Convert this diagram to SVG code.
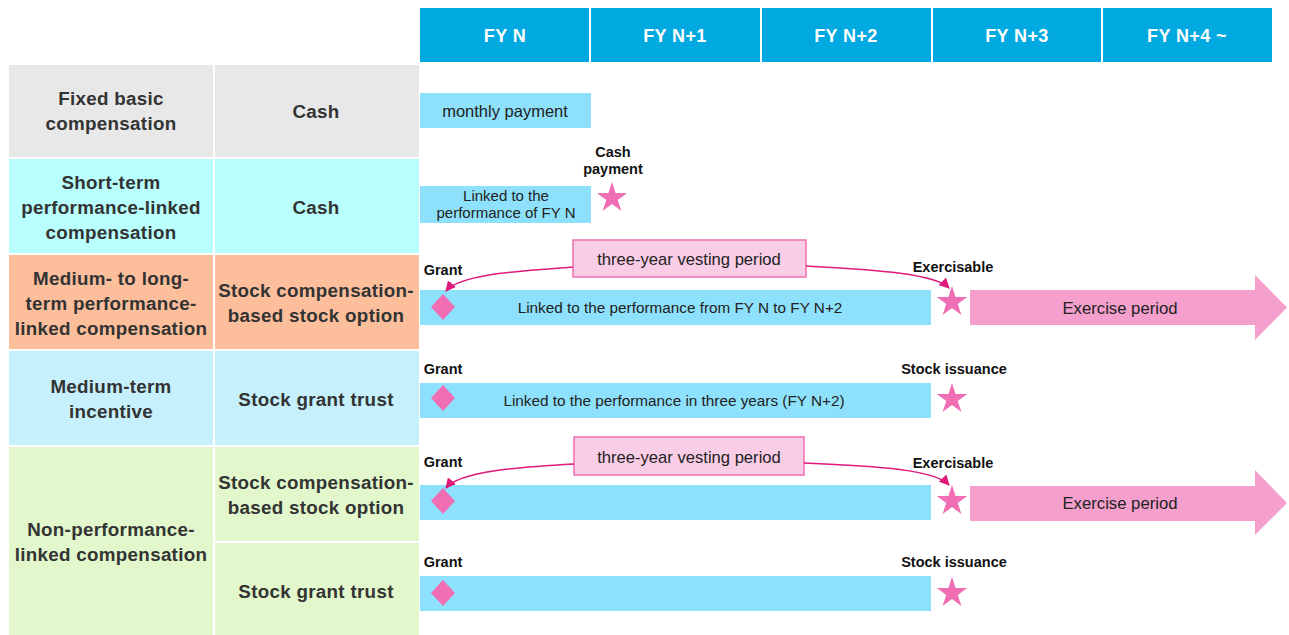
<svg xmlns="http://www.w3.org/2000/svg" width="1289" height="635" viewBox="0 0 1289 635">
<defs>
<style>
.hdr{fill:#00A9DF}
.hdrt{font-family:"Liberation Sans",Arial,sans-serif;font-weight:bold;font-size:18px;fill:#fff;text-anchor:middle;letter-spacing:0.4px}
.tt{font-family:"Liberation Sans",Arial,sans-serif;font-weight:bold;font-size:18.8px;fill:#333;text-anchor:middle;letter-spacing:0.3px}
.bar{fill:#8EE1FC}
.bt{font-family:"Liberation Sans",Arial,sans-serif;font-size:15.3px;fill:#222;text-anchor:middle}
.lb{font-family:"Liberation Sans",Arial,sans-serif;font-weight:bold;font-size:14.5px;fill:#111;text-anchor:middle}
.mk{fill:#F06EB4}
.vest{fill:#F9CDE6;stroke:#EE6FAE;stroke-width:1.5}
.vt{font-family:"Liberation Sans",Arial,sans-serif;font-size:16.6px;fill:#222;text-anchor:middle}
.conn{fill:none;stroke:#E0197D;stroke-width:1.5}
.exa{fill:#F49FCC}
</style>
<path id="star" d="M0,-16 L3.59,-4.94 L15.22,-4.94 L5.8,1.88 L9.4,12.94 L0,6.1 L-9.4,12.94 L-5.8,1.88 L-15.22,-4.94 L-3.59,-4.94 Z"/>
<path id="dia" d="M0,-13 L12,0 L0,13 L-12,0 Z"/>
<marker id="ah" viewBox="0 0 10 10" refX="9" refY="5" markerWidth="7" markerHeight="7" orient="auto-start-reverse">
<path d="M0,0 L10,5 L0,10 Z" fill="#E0197D"/>
</marker>
</defs>
<rect width="1289" height="635" fill="#fff"/>

<g id="header">
<rect class="hdr" x="420" y="8" width="169" height="54"/>
<rect class="hdr" x="591" y="8" width="169" height="54"/>
<rect class="hdr" x="762" y="8" width="169" height="54"/>
<rect class="hdr" x="933" y="8" width="168" height="54"/>
<rect class="hdr" x="1103" y="8" width="169" height="54"/>
<text class="hdrt" x="505" y="42">FY N</text>
<text class="hdrt" x="675" y="42">FY N+1</text>
<text class="hdrt" x="846" y="42">FY N+2</text>
<text class="hdrt" x="1017" y="42">FY N+3</text>
<text class="hdrt" x="1187" y="42">FY N+4 ~</text>
</g>

<g id="row-fixed">
<rect x="9" y="65" width="204" height="92" fill="#E8E8E8"/>
<rect x="215" y="65" width="204" height="92" fill="#E8E8E8"/>
<text class="tt" x="111" y="105">Fixed basic</text>
<text class="tt" x="111" y="130">compensation</text>
<text class="tt" x="316" y="118">Cash</text>
<rect class="bar" x="420" y="93" width="171" height="35"/>
<text class="bt" x="505" y="117" style="font-size:16.5px">monthly payment</text>
</g>

<g id="row-short">
<rect x="9" y="159" width="204" height="94" fill="#B8FFFD"/>
<rect x="215" y="159" width="204" height="94" fill="#B8FFFD"/>
<text class="tt" x="111" y="189">Short-term</text>
<text class="tt" x="111" y="214">performance-linked</text>
<text class="tt" x="111" y="239">compensation</text>
<text class="tt" x="316" y="214">Cash</text>
<rect class="bar" x="420" y="186" width="171" height="37"/>
<text class="bt" x="506" y="201" style="font-size:15px">Linked to the</text>
<text class="bt" x="506" y="218" style="font-size:15px">performance of FY N</text>
<text class="lb" x="613" y="157">Cash</text>
<text class="lb" x="613" y="174">payment</text>
<use href="#star" class="mk" transform="translate(612,198)"/>
</g>

<g id="row-midlong">
<rect x="9" y="255" width="204" height="94" fill="#FDBF9B"/>
<rect x="215" y="255" width="204" height="94" fill="#FDBF9B"/>
<text class="tt" x="111" y="285">Medium- to long-</text>
<text class="tt" x="111" y="310">term performance-</text>
<text class="tt" x="111" y="335">linked compensation</text>
<text class="tt" x="316" y="297">Stock compensation-</text>
<text class="tt" x="316" y="322">based stock option</text>
<rect class="bar" x="420" y="290" width="511" height="35"/>
<text class="bt" x="680" y="313">Linked to the performance from FY N to FY N+2</text>
<text class="lb" x="443" y="275">Grant</text>
<text class="lb" x="953" y="272">Exercisable</text>
<use href="#dia" class="mk" transform="translate(443,307)"/>
<use href="#star" class="mk" transform="translate(952,302)"/>
<path class="exa" d="M970,290 H1255 V275 L1287,307.5 L1255,340 V325 H970 Z"/>
<text class="bt" x="1120" y="314" style="font-size:16.7px">Exercise period</text>
<rect class="vest" x="573" y="240" width="233" height="37"/>
<text class="vt" x="689" y="265">three-year vesting period</text>
</g>

<g id="row-mid">
<rect x="9" y="351" width="204" height="94" fill="#C5F0FC"/>
<rect x="215" y="351" width="204" height="94" fill="#C5F0FC"/>
<text class="tt" x="111" y="393">Medium-term</text>
<text class="tt" x="111" y="418">incentive</text>
<text class="tt" x="316" y="406">Stock grant trust</text>
<rect class="bar" x="420" y="383" width="511" height="35"/>
<text class="bt" x="674" y="406">Linked to the performance in three years (FY N+2)</text>
<text class="lb" x="443" y="374">Grant</text>
<text class="lb" x="954" y="374">Stock issuance</text>
<use href="#dia" class="mk" transform="translate(443,398)"/>
<use href="#star" class="mk" transform="translate(952,399)"/>
</g>

<g id="row-nonperf">
<rect x="9" y="447" width="204" height="188" fill="#E2F7CC"/>
<rect x="215" y="447" width="204" height="94" fill="#E2F7CC"/>
<rect x="215" y="543" width="204" height="92" fill="#E2F7CC"/>
<text class="tt" x="111" y="536">Non-performance-</text>
<text class="tt" x="111" y="561">linked compensation</text>
<text class="tt" x="316" y="489">Stock compensation-</text>
<text class="tt" x="316" y="514">based stock option</text>
<text class="tt" x="316" y="598">Stock grant trust</text>
</g>

<g id="row-nonperf-option">
<rect class="bar" x="420" y="485" width="511" height="35"/>
<text class="lb" x="443" y="467">Grant</text>
<text class="lb" x="953" y="468">Exercisable</text>
<use href="#dia" class="mk" transform="translate(443,501)"/>
<use href="#star" class="mk" transform="translate(952,501)"/>
<path class="exa" d="M970,486 H1255 V470 L1287,503 L1255,535 V521 H970 Z"/>
<text class="bt" x="1120" y="509" style="font-size:16.7px">Exercise period</text>
<rect class="vest" x="574" y="437" width="230" height="38"/>
<text class="vt" x="689" y="463">three-year vesting period</text>
</g>

<g id="row-nonperf-trust">
<rect class="bar" x="420" y="576" width="511" height="35"/>
<text class="lb" x="443" y="567">Grant</text>
<text class="lb" x="954" y="567">Stock issuance</text>
<use href="#dia" class="mk" transform="translate(443,593)"/>
<use href="#star" class="mk" transform="translate(952,593)"/>
</g>

<g id="connectors">
<path class="conn" marker-end="url(#ah)" d="M573,267 C520,271 460,274 446,291"/>
<path class="conn" marker-end="url(#ah)" d="M806,266 C880,270 935,274 949,288"/>
<path class="conn" marker-end="url(#ah)" d="M574,464 C520,467 460,471 446,488"/>
<path class="conn" marker-end="url(#ah)" d="M804,463 C880,466 935,470 949,485"/>
</g>
</svg>
